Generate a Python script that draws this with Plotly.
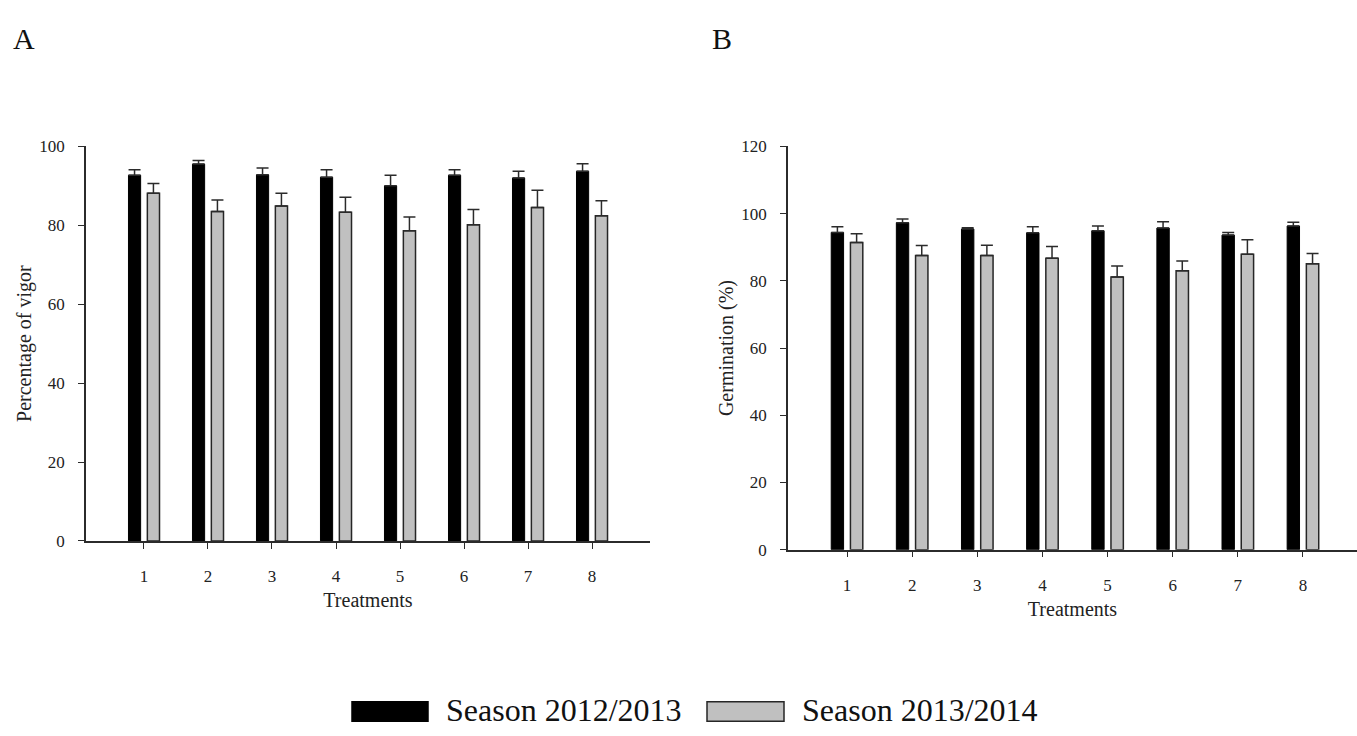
import plotly.graph_objects as go

treatments = [1, 2, 3, 4, 5, 6, 7, 8]
tick_labels = ["1", "2", "3", "4", "5", "6", "7", "8"]
series_names = ["Season 2012/2013", "Season 2013/2014"]

# Panel A: Percentage of vigor
vigor_2012 = [92.7, 95.5, 92.8, 92.2, 90.0, 92.7, 92.0, 93.7]
vigor_2012_err = [1.4, 0.9, 1.7, 1.9, 2.7, 1.4, 1.7, 1.9]
vigor_2013 = [88.1, 83.5, 84.9, 83.3, 78.6, 80.1, 84.5, 82.4]
vigor_2013_err = [2.5, 2.9, 3.2, 3.8, 3.5, 3.9, 4.4, 3.8]

# Panel B: Germination (%)
germ_2012 = [94.4, 97.3, 95.4, 94.3, 94.9, 95.7, 93.6, 96.3]
germ_2012_err = [1.7, 1.1, 0.4, 1.8, 1.4, 1.9, 0.8, 1.1]
germ_2013 = [91.4, 87.5, 87.5, 86.7, 81.1, 83.0, 87.9, 85.1]
germ_2013_err = [2.6, 3.0, 3.1, 3.5, 3.3, 2.9, 4.3, 3.0]

FONT = "Liberation Serif"
AX = "#2b2b2b"
BLACK = "#000000"
GRAY = "#c0c0c0"
EDGE = "#262626"

W, H = 1357, 736

def px(x):
    return x / W

def py(y):
    return 1 - y / H

fig = go.Figure()

def add_pair(v1, e1, v2, e2, xa, ya):
    fig.add_trace(go.Bar(
        x=treatments, y=v1, name=series_names[0], xaxis=xa, yaxis=ya,
        marker=dict(color=BLACK, line=dict(color=BLACK, width=1)),
        error_y=dict(type="data", array=e1, arrayminus=[0] * len(e1), symmetric=False,
                     color=AX, thickness=1.5, width=6),
        showlegend=False,
    ))
    fig.add_trace(go.Bar(
        x=treatments, y=v2, name=series_names[1], xaxis=xa, yaxis=ya,
        marker=dict(color=GRAY, line=dict(color=EDGE, width=1.5)),
        error_y=dict(type="data", array=e2, arrayminus=[0] * len(e2), symmetric=False,
                     color=AX, thickness=1.5, width=6),
        showlegend=False,
    ))

add_pair(vigor_2012, vigor_2012_err, vigor_2013, vigor_2013_err, "x", "y")
add_pair(germ_2012, germ_2012_err, germ_2013, germ_2013_err, "x2", "y2")

common_x = dict(
    tickmode="array", tickvals=treatments, ticktext=tick_labels,
    showline=True, linecolor=AX, linewidth=1.5,
    ticks="outside", ticklen=6, tickwidth=1.2, tickcolor=AX,
    showgrid=False, zeroline=False,
    tickfont=dict(family=FONT, size=17, color="#222"),
    ticklabelstandoff=13,
    title=dict(text="Treatments", font=dict(family=FONT, size=20, color="#222"), standoff=8),
)
common_y = dict(
    showline=True, linecolor=AX, linewidth=1.5,
    ticks="outside", ticklen=6, tickwidth=1.2, tickcolor=AX,
    showgrid=False, zeroline=False, dtick=20,
    tickfont=dict(family=FONT, size=17, color="#222"),
    ticklabelstandoff=10,
)

fig.update_layout(
    width=W, height=H,
    margin=dict(l=0, r=0, t=0, b=0),
    paper_bgcolor="white", plot_bgcolor="white",
    barmode="group", bargap=0.41, bargroupgap=0.356,
    showlegend=False,
    xaxis=dict(domain=[px(86), px(650)], range=[0.094, 8.906], anchor="y", **common_x),
    yaxis=dict(domain=[py(546), py(141)], range=[0, 100], anchor="x",
               title=dict(text="Percentage of vigor", font=dict(family=FONT, size=20, color="#222"), standoff=2),
               **common_y),
    xaxis2=dict(domain=[px(788), 1.0], range=[0.094, 8.83], anchor="y2", **common_x),
    yaxis2=dict(domain=[py(555), py(141)], range=[0, 120], anchor="x2",
                title=dict(text="Germination (%)", font=dict(family=FONT, size=20, color="#222"), standoff=2),
                **common_y),
)

# Panel letters
fig.add_annotation(text="A", x=px(11), y=py(30), xref="paper", yref="paper",
                   xanchor="left", yanchor="middle", showarrow=False,
                   font=dict(family=FONT, size=30, color="#111"))
fig.add_annotation(text="B", x=px(710), y=py(30), xref="paper", yref="paper",
                   xanchor="left", yanchor="middle", showarrow=False,
                   font=dict(family=FONT, size=30, color="#111"))

# Legend (drawn manually to match large swatches)
legend_items = [
    (series_names[0], BLACK, BLACK, 352, 428, 444),
    (series_names[1], GRAY, EDGE, 707, 784, 800),
]
for name, fill, edge, x0, x1, tx in legend_items:
    fig.add_shape(type="rect", xref="paper", yref="paper",
                  x0=px(x0), x1=px(x1), y0=py(731), y1=py(711),
                  fillcolor=fill, line=dict(color=edge, width=1.5))
    fig.add_annotation(text=name, x=px(tx), y=py(720), xref="paper", yref="paper",
                       xanchor="left", yanchor="middle", showarrow=False,
                       font=dict(family=FONT, size=32, color="#111"))

fig.write_html("out.html")
